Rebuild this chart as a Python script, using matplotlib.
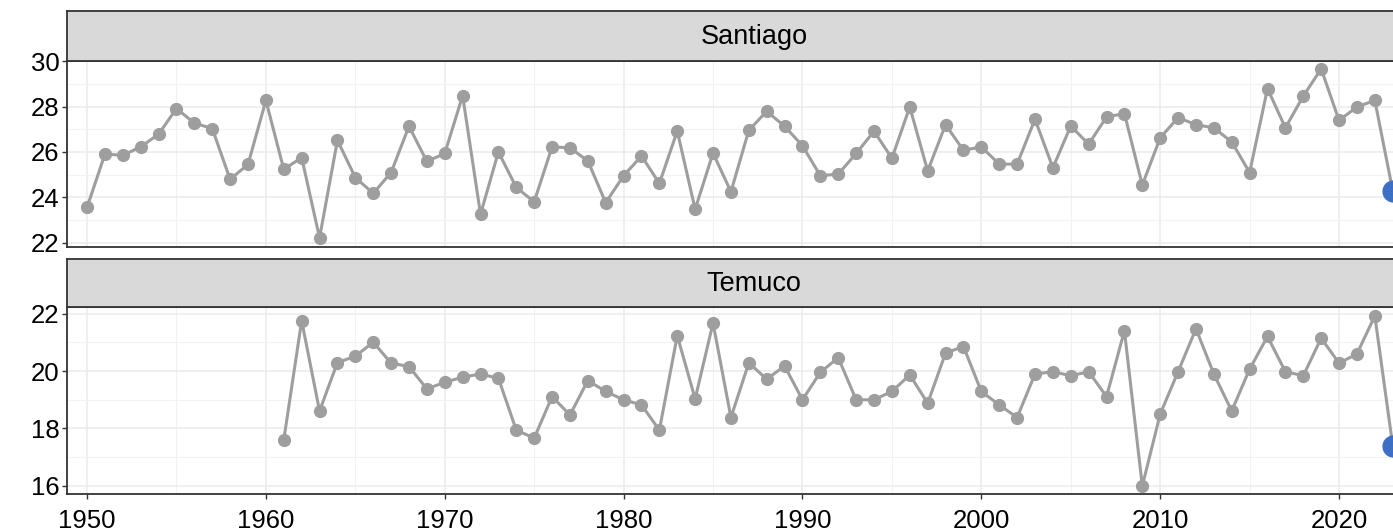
import numpy as np
import matplotlib.pyplot as plt
from matplotlib.ticker import MultipleLocator

plt.rcParams['font.family'] = ['Liberation Sans', 'DejaVu Sans']

years_stgo = list(range(1950, 2023))
stgo = [23.55, 25.90, 25.85, 26.22, 26.78, 27.91, 27.27, 27.03, 24.79, 25.45,
        28.27, 25.23, 25.75, 22.21, 26.51, 24.87, 24.17, 25.09, 27.13, 25.58,
        25.93, 28.48, 23.25, 26.00, 24.43, 23.80, 26.22, 26.18, 25.60, 23.76,
        24.95, 25.82, 24.61, 26.92, 23.47, 25.95, 24.24, 26.95, 27.79, 27.13,
        26.27, 24.95, 25.02, 25.93, 26.91, 25.72, 27.98, 25.16, 27.20, 26.07,
        26.22, 25.46, 25.46, 27.44, 25.30, 27.14, 26.34, 27.54, 27.69, 24.54,
        26.62, 27.51, 27.20, 27.06, 26.44, 25.09, 28.79, 27.06, 28.46, 29.66,
        27.39, 27.98, 28.27]

years_temuco = list(range(1961, 2023))
temuco = [17.60, 21.76, 18.61, 20.30, 20.52, 21.01, 20.28, 20.16, 19.38,
          19.61, 19.79, 19.90, 19.75, 17.94, 17.66, 19.11, 18.47, 19.67, 19.29,
          19.00, 18.82, 17.94, 21.24, 19.03, 21.68, 18.38, 20.29, 19.72, 20.18,
          19.00, 19.96, 20.47, 19.00, 19.00, 19.29, 19.87, 18.88, 20.63, 20.86,
          19.29, 18.82, 18.38, 19.90, 19.98, 19.84, 19.98, 19.11, 21.41, 15.99,
          18.50, 19.98, 21.48, 19.90, 18.61, 20.07, 21.21, 19.98, 19.84, 21.15,
          20.28, 20.60, 21.93]

# 2023 value, highlighted
last_year = 2023
stgo_last = 24.29
temuco_last = 17.40

W, H = 1393, 531
fig = plt.figure(figsize=(W / 100, H / 100), dpi=100)


def px_axes(left, top, right, bottom):
    return fig.add_axes([left / W, 1 - bottom / H, (right - left) / W, (bottom - top) / H])


def panel(top, bottom, strip_top, name, x, y, y_last, ylim, yticks, show_x):
    ax = px_axes(67, top, 1441, bottom)
    ax.set_xlim(1948.88, 2025.7)
    ax.set_ylim(*ylim)
    ax.set_yticks(yticks)
    ax.xaxis.set_major_locator(MultipleLocator(10))
    ax.xaxis.set_minor_locator(MultipleLocator(5))
    ax.yaxis.set_minor_locator(MultipleLocator(1))
    ax.grid(which='major', color='#ebebeb', lw=1.1)
    ax.grid(which='minor', color='#f2f2f2', lw=0.8)
    ax.set_axisbelow(True)
    for s in ax.spines.values():
        s.set_color('#333333')
        s.set_linewidth(1.3)
    ax.tick_params(axis='both', which='major', length=3.5, color='#333333',
                   labelsize=18.5, labelcolor='black', width=1, pad=2)
    ax.tick_params(axis='x', pad=7)
    ax.tick_params(which='minor', length=0)
    if not show_x:
        ax.tick_params(axis='x', bottom=False, labelbottom=False)
    ax.plot(x, y, color='#9e9e9e', lw=2.2, marker='o', ms=8.5, mec='#9e9e9e',
            mfc='#9e9e9e', zorder=3)
    ax.plot([x[-1], last_year], [y[-1], y_last], color='#9e9e9e', lw=2.2, zorder=3)
    ax.plot([last_year], [y_last], 'o', color='#3d6fc4', ms=15, zorder=4, clip_on=False)

    st = px_axes(67, strip_top, 1441, top)
    st.set_facecolor('#d9d9d9')
    st.set_xticks([])
    st.set_yticks([])
    for s in st.spines.values():
        s.set_color('#333333')
        s.set_linewidth(1.3)
    st.text(0.5, 0.47, name, ha='center', va='center', fontsize=19.5,
            transform=st.transAxes, color='black')
    return ax


panel(60.7, 246.7, 11, 'Santiago', years_stgo, stgo, stgo_last,
      (21.82, 30.02), [22, 24, 26, 28, 30], False)
panel(306.7, 494, 259.3, 'Temuco', years_temuco, temuco, temuco_last,
      (15.71, 22.25), [16, 18, 20, 22], True)

fig.savefig('out.png', dpi=100)
